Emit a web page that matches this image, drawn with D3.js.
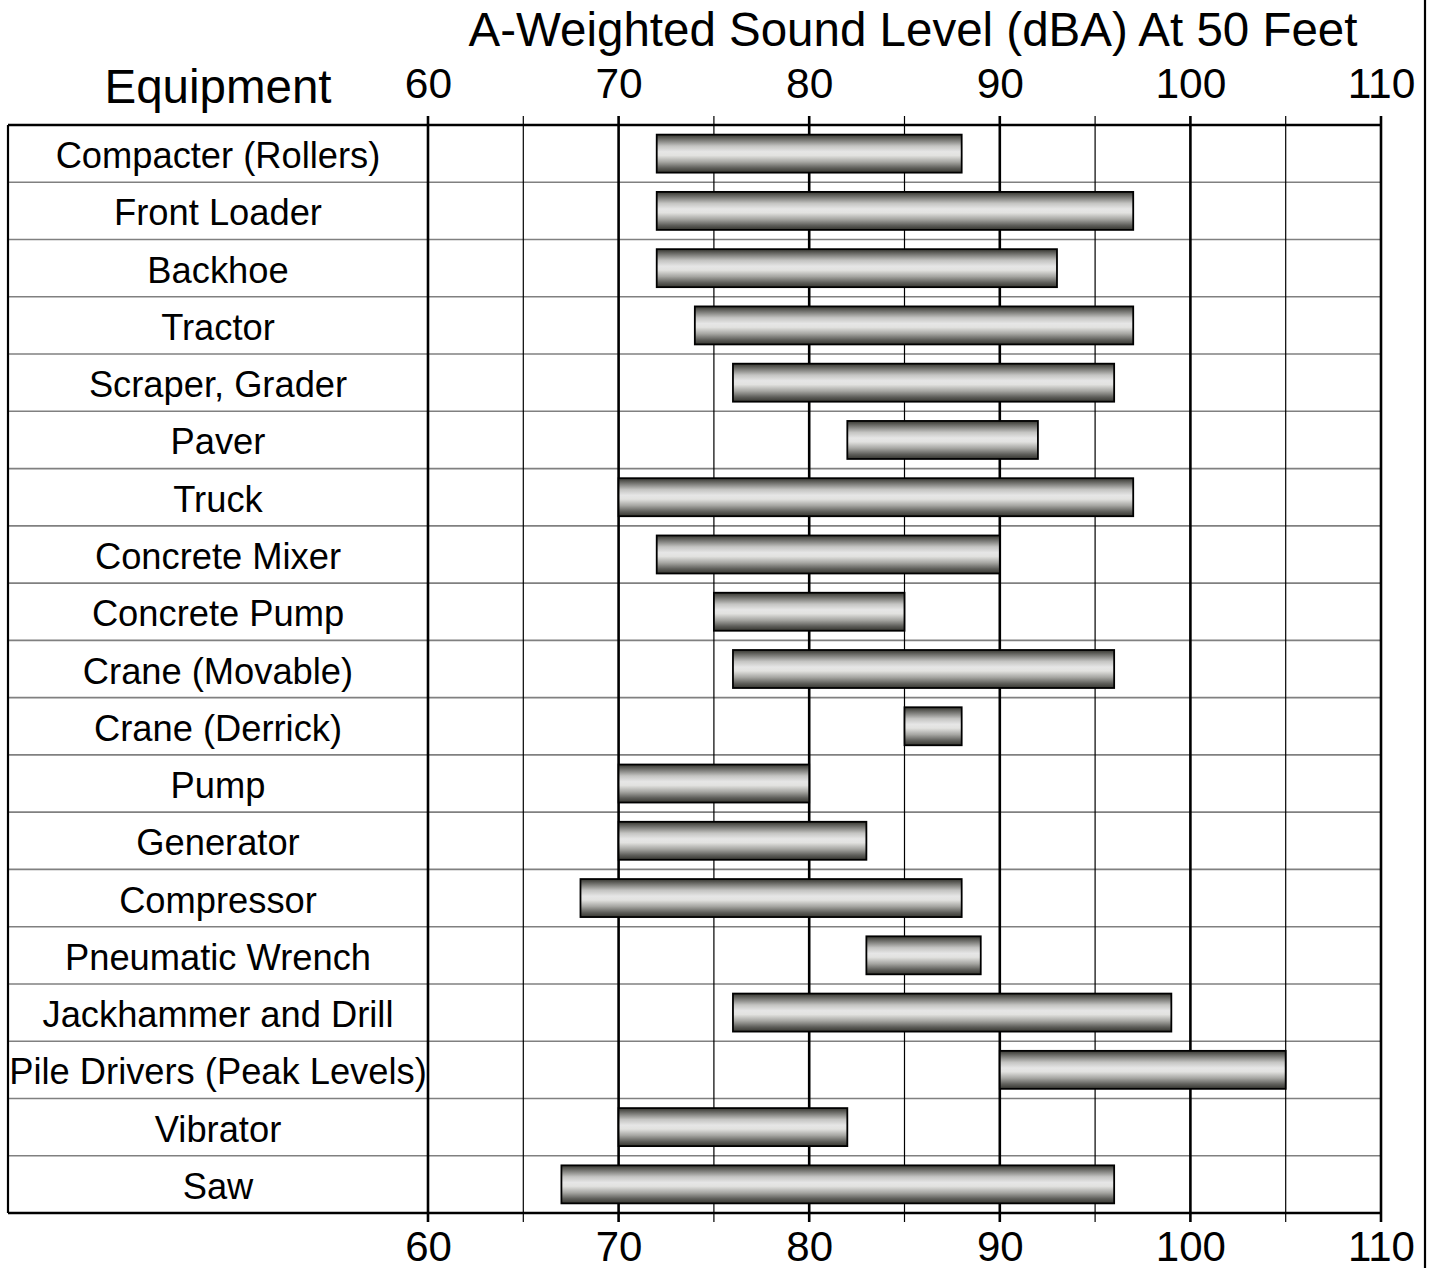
<!DOCTYPE html>
<html><head><meta charset="utf-8">
<script src="https://cdn.jsdelivr.net/npm/d3@7"></script>
<style>
html,body{margin:0;padding:0;background:#fff;}
svg text{font-family:"Liberation Sans",Arial,sans-serif;fill:#000;}
</style></head>
<body><svg id="c" width="1435" height="1268"></svg>
<script>
const equipment = ["Compacter (Rollers)","Front Loader","Backhoe","Tractor","Scraper, Grader","Paver","Truck","Concrete Mixer","Concrete Pump","Crane (Movable)","Crane (Derrick)","Pump","Generator","Compressor","Pneumatic Wrench","Jackhammer and Drill","Pile Drivers (Peak Levels)","Vibrator","Saw"];
const lowLevels  = [72,72,72,74,76,82,70,72,75,76,85,70,70,68,83,76,90,70,67];
const highLevels = [88,97,93,97,96,92,97,90,85,96,88,80,83,88,89,99,105,82,96];
const majorTicks = [60,70,80,90,100,110];
const minorTicks = [65,75,85,95,105];
const titleText = "A-Weighted Sound Level (dBA) At 50 Feet";
const yTitle = "Equipment";

(function(){
const svg = d3.select("#c");
const mLeft = 8, x0 = 428, x1 = 1381, mTop = 125, mBottom = 1213;
const x = d3.scaleLinear().domain([60,110]).range([x0,x1]);
const y = d3.scaleBand().domain(equipment).range([mTop,mBottom]).padding(0);

const defs = svg.append("defs");
const g = defs.append("linearGradient").attr("id","barGrad").attr("x1",0).attr("y1",0).attr("x2",0).attr("y2",1);
[[0,"#35352f"],[0.12,"#6e6e6a"],[0.3,"#c4c4c2"],[0.45,"#e6e6e6"],[0.55,"#e2e2e0"],[0.72,"#a6a6a2"],[0.88,"#5e5e5a"],[1,"#35352f"]]
  .forEach(([o,c])=>g.append("stop").attr("offset",o).attr("stop-color",c));

// row dividers
svg.append("g").selectAll("line").data(equipment.slice(1)).join("line")
  .attr("x1",mLeft).attr("x2",x1).attr("y1",d=>y(d)).attr("y2",d=>y(d))
  .attr("stroke","#808080").attr("stroke-width",1.6);

// minor gridlines
svg.append("g").selectAll("line").data(minorTicks).join("line")
  .attr("x1",d=>x(d)).attr("x2",d=>x(d)).attr("y1",mTop-9).attr("y2",mBottom+9)
  .attr("stroke","#000").attr("stroke-width",1.2);
// major gridlines
svg.append("g").selectAll("line").data(majorTicks).join("line")
  .attr("x1",d=>x(d)).attr("x2",d=>x(d)).attr("y1",mTop-9).attr("y2",mBottom+9)
  .attr("stroke","#000").attr("stroke-width",2.6);

// borders
svg.append("line").attr("x1",mLeft).attr("x2",x1).attr("y1",mTop).attr("y2",mTop).attr("stroke","#000").attr("stroke-width",2.6);
svg.append("line").attr("x1",mLeft).attr("x2",x1).attr("y1",mBottom).attr("y2",mBottom).attr("stroke","#000").attr("stroke-width",2.6);
svg.append("line").attr("x1",mLeft).attr("x2",mLeft).attr("y1",mTop).attr("y2",mBottom).attr("stroke","#000").attr("stroke-width",2.2);
svg.append("line").attr("x1",1425).attr("x2",1425).attr("y1",0).attr("y2",1268).attr("stroke","#000").attr("stroke-width",2.2);

// bars
const bh = 38;
svg.append("g").selectAll("rect").data(equipment).join("rect")
  .attr("x",(d,i)=>x(lowLevels[i]))
  .attr("width",(d,i)=>x(highLevels[i])-x(lowLevels[i]))
  .attr("y",d=>y(d)+(y.bandwidth()-bh)/2)
  .attr("height",bh)
  .attr("fill","url(#barGrad)").attr("stroke","#000").attr("stroke-width",1.8);

// row labels
svg.append("g").selectAll("text").data(equipment).join("text")
  .attr("x",(mLeft+x0)/2).attr("y",d=>y(d)+y.bandwidth()/2).attr("dy","0.4em")
  .attr("text-anchor","middle").attr("font-size",36.3).text(d=>d);

// axes tick labels
const axTop = d3.axisTop(x).tickValues(majorTicks).tickSize(0).tickPadding(0).tickFormat(d3.format("d"));
const gt = svg.append("g").attr("transform","translate(0,98)").call(axTop);
gt.select(".domain").remove();
gt.selectAll("text").attr("font-size",42.5).attr("dy",0).attr("fill","#000").style("font-family",'"Liberation Sans",Arial,sans-serif');
const axBot = d3.axisBottom(x).tickValues(majorTicks).tickSize(0).tickPadding(0).tickFormat(d3.format("d"));
const gb = svg.append("g").attr("transform","translate(0,1261)").call(axBot);
gb.select(".domain").remove();
gb.selectAll("text").attr("font-size",42).attr("dy",0).attr("fill","#000").style("font-family",'"Liberation Sans",Arial,sans-serif');

svg.append("text").attr("x",913).attr("y",46).attr("text-anchor","middle").attr("font-size",47.5).text(titleText);
svg.append("text").attr("x",218).attr("y",103).attr("text-anchor","middle").attr("font-size",47.5).text(yTitle);
})();
</script></body></html>
